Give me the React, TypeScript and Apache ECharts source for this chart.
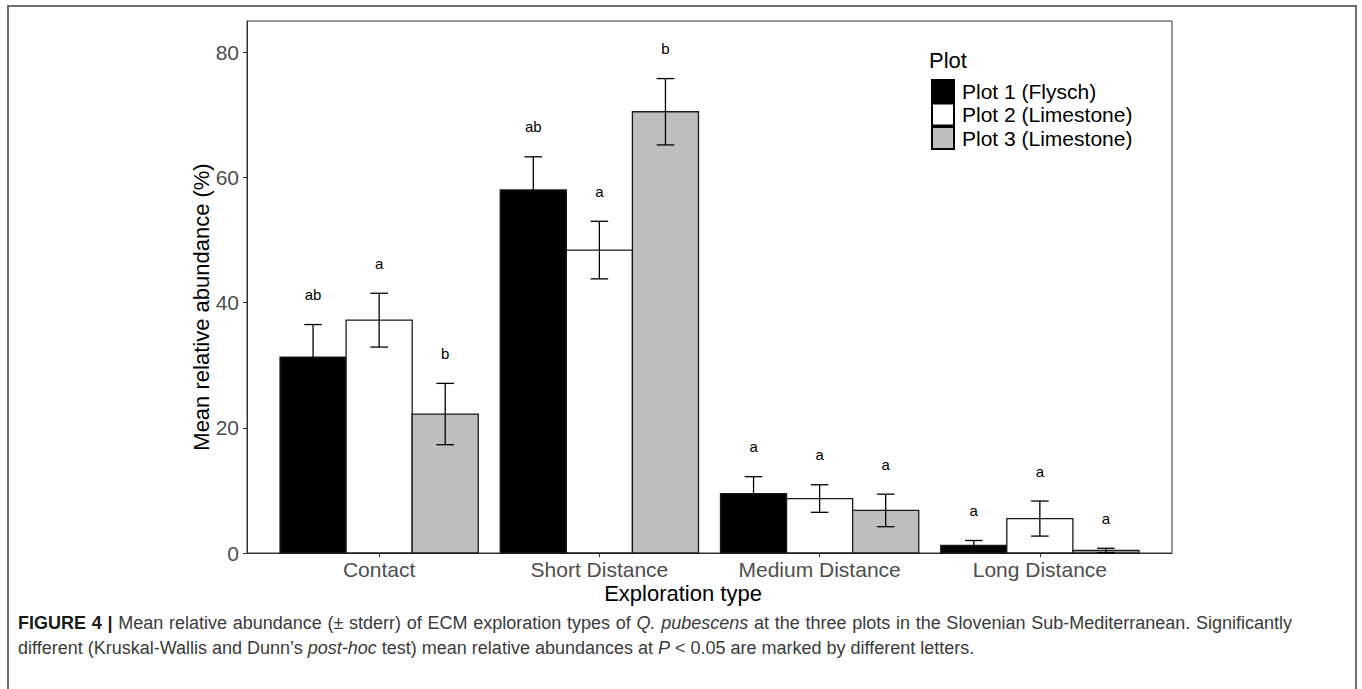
import React, { useEffect, useRef } from "react";
import * as echarts from "echarts";

// Exploration types on the x axis
const categories = ["Contact", "Short Distance", "Medium Distance", "Long Distance"];

// Plot names (legend entries)
const plotNames = ["Plot 1 (Flysch)", "Plot 2 (Limestone)", "Plot 3 (Limestone)"];

// Mean relative abundance (%) per exploration type
const plot1Mean = [31.3, 58.0, 9.5, 1.2];
const plot2Mean = [37.2, 48.4, 8.7, 5.5];
const plot3Mean = [22.2, 70.5, 6.8, 0.4];

// Standard errors
const plot1Se = [5.2, 5.3, 2.7, 0.8];
const plot2Se = [4.3, 4.6, 2.2, 2.8];
const plot3Se = [4.9, 5.3, 2.6, 0.35];

// Significance letters (Kruskal-Wallis / Dunn)
const plot1Letters = ["ab", "ab", "a", "a"];
const plot2Letters = ["a", "a", "a", "a"];
const plot3Letters = ["b", "b", "a", "a"];

const yTicks = [0, 20, 40, 60, 80];

// Caption, as styled runs (b = bold, i = italic)
const captionLine1: [string, string][] = [
  ["FIGURE 4 |", "b"],
  ["Mean relative abundance (\u00b1 stderr) of ECM exploration types of", "n"],
  ["Q. pubescens", "i"],
  ["at the three plots in the Slovenian Sub-Mediterranean. Significantly", "n"],
];
const captionLine2 =
  "different (Kruskal-Wallis and Dunn\u2019s {i|post-hoc} test) mean relative abundances at {i|P} < 0.05 are marked by different letters.";

const FONT = "'Liberation Sans', Arial, Helvetica, sans-serif";
const CAP_SIZE = 18;
const fills = ["#000000", "#ffffff", "#bebebe"];

const BAR_W = 0.3; // bar width in x-axis units (0.9 dodge / 3)
const CAP_HALF = 0.04;
const LETTER_GAP = 4.8;

function buildSeries(k: number, means: number[], ses: number[], letters: string[]) {
  const data = means.map((m, i) => [i + 1, m, ses[i]]);
  const offset = (k - 1) * BAR_W;
  return {
    type: "custom",
    name: plotNames[k],
    itemStyle: { color: fills[k], borderColor: "#000", borderWidth: 1 },
    data,
    encode: { x: 0, y: 1 },
    renderItem: (params: any, api: any) => {
      const x = api.value(0) + offset;
      const v = api.value(1);
      const se = api.value(2);
      const letter = letters[params.dataIndex];
      const tl = api.coord([x - BAR_W / 2, v]);
      const br = api.coord([x + BAR_W / 2, 0]);
      const top = api.coord([x, v + se]);
      const bot = api.coord([x, Math.max(v - se, 0)]);
      const capL = api.coord([x - CAP_HALF, 0])[0];
      const capR = api.coord([x + CAP_HALF, 0])[0];
      const lab = api.coord([x, v + se + LETTER_GAP]);
      const line = { stroke: "#000", lineWidth: 1.3 };
      return {
        type: "group",
        children: [
          {
            type: "rect",
            shape: { x: tl[0], y: tl[1], width: br[0] - tl[0], height: br[1] - tl[1] },
            style: { fill: fills[k], stroke: "#1a1a1a", lineWidth: 1.3 },
          },
          { type: "line", shape: { x1: top[0], y1: top[1], x2: bot[0], y2: bot[1] }, style: line },
          { type: "line", shape: { x1: capL, y1: top[1], x2: capR, y2: top[1] }, style: line },
          { type: "line", shape: { x1: capL, y1: bot[1], x2: capR, y2: bot[1] }, style: line },
          {
            type: "text",
            x: lab[0],
            y: lab[1],
            style: {
              text: letter,
              fill: "#000",
              fontSize: 15,
              fontFamily: FONT,
              align: "center",
              verticalAlign: "middle",
            },
          },
        ],
      };
    },
  };
}

// Lay out a justified caption line word by word between left and right.
function justifiedLine(runs: [string, string][], left: number, right: number, y: number) {
  const canvas = document.createElement("canvas");
  const ctx = canvas.getContext("2d")!;
  const fontFor = (s: string) =>
    `${s === "i" ? "italic " : ""}${s === "b" ? "bold " : ""}${CAP_SIZE}px ${FONT}`;
  const words: { t: string; s: string; w: number }[] = [];
  runs.forEach(([txt, s]) => {
    ctx.font = fontFor(s);
    txt.split(" ").forEach((t) => {
      if (t) words.push({ t, s, w: ctx.measureText(t).width });
    });
  });
  const total = words.reduce((a, w) => a + w.w, 0);
  const gap = (right - left - total) / (words.length - 1);
  let x = left;
  return words.map((w) => {
    const el = {
      type: "text",
      silent: true,
      x,
      y,
      style: {
        text: w.t,
        fill: w.s === "b" ? "#1a1a1a" : "#3a3a3a",
        fontSize: CAP_SIZE,
        fontFamily: FONT,
        fontWeight: w.s === "b" ? "bold" : "normal",
        fontStyle: w.s === "i" ? "italic" : "normal",
        verticalAlign: "middle",
      },
    };
    x += w.w + gap;
    return el;
  });
}

export default function App() {
  const ref = useRef<HTMLDivElement>(null);

  useEffect(() => {
    if (!ref.current) return;
    const chart = echarts.init(ref.current, undefined, { renderer: "svg" });

    const captionRich = {
      i: { fontStyle: "italic", fill: "#3a3a3a", fontSize: CAP_SIZE, fontFamily: FONT },
    };

    chart.setOption({
      animation: false,
      backgroundColor: "#ffffff",
      grid: {
        left: 247,
        top: 21,
        right: 190,
        bottom: 136,
        show: true,
        borderColor: "#333333",
        borderWidth: 1,
        backgroundColor: "transparent",
      },
      xAxis: {
        type: "value",
        min: 0.4,
        max: 4.6,
        splitLine: { show: false },
        axisLine: { show: true, onZero: false, lineStyle: { color: "#333333", width: 1 } },
        axisTick: { show: true, length: 4, customValues: [1, 2, 3, 4], lineStyle: { color: "#333333" } },
        axisLabel: {
          customValues: [1, 2, 3, 4],
          formatter: (v: number) => categories[Math.round(v) - 1] ?? "",
          color: "#4d4d4d",
          fontSize: 21,
          fontFamily: FONT,
          margin: 6,
        },
      },
      yAxis: {
        type: "value",
        min: 0,
        max: 85,
        splitLine: { show: false },
        axisLine: { show: true, lineStyle: { color: "#333333", width: 1 } },
        axisTick: { show: true, length: 4, customValues: yTicks, lineStyle: { color: "#333333" } },
        axisLabel: {
          customValues: yTicks,
          color: "#4d4d4d",
          fontSize: 21,
          fontFamily: FONT,
          margin: 8,
        },
      },
      legend: {
        orient: "vertical",
        left: 926,
        top: 74,
        itemWidth: 22,
        itemHeight: 22,
        itemGap: -0.5,
        icon: "rect",
        data: plotNames,
        selectedMode: false,
        textStyle: {
          color: "#000",
          fontSize: 21,
          lineHeight: 22,
          fontFamily: FONT,
          padding: [0, 0, 0, 3],
        },
      },
      graphic: [
        {
          type: "rect",
          silent: true,
          shape: { x: 8, y: 6, width: 1348, height: 720 },
          style: { fill: "none", stroke: "#6e6e6e", lineWidth: 2 },
        },
        {
          type: "text",
          x: 929,
          y: 60,
          style: { text: "Plot", fill: "#000", fontSize: 22, fontFamily: FONT, verticalAlign: "middle" },
        },
        {
          type: "text",
          x: 201,
          y: 307,
          rotation: Math.PI / 2,
          style: {
            text: "Mean relative abundance (%)",
            fill: "#000",
            fontSize: 22,
            fontFamily: FONT,
            align: "center",
            verticalAlign: "middle",
          },
        },
        {
          type: "text",
          x: 683,
          y: 593,
          style: {
            text: "Exploration type",
            fill: "#000",
            fontSize: 22,
            fontFamily: FONT,
            align: "center",
            verticalAlign: "middle",
          },
        },
        ...justifiedLine(captionLine1, 18, 1292, 623),
        {
          type: "text",
          x: 18,
          y: 648,
          style: {
            text: captionLine2,
            rich: captionRich,
            fill: "#3a3a3a",
            fontSize: CAP_SIZE,
            fontFamily: FONT,
            verticalAlign: "middle",
          },
        },
      ],
      series: [
        buildSeries(0, plot1Mean, plot1Se, plot1Letters),
        buildSeries(1, plot2Mean, plot2Se, plot2Letters),
        buildSeries(2, plot3Mean, plot3Se, plot3Letters),
      ],
    });

    return () => chart.dispose();
  }, []);

  return (
    <div
      ref={ref}
      style={{ position: "fixed", left: 0, top: 0, width: 1362, height: 689 }}
    />
  );
}
